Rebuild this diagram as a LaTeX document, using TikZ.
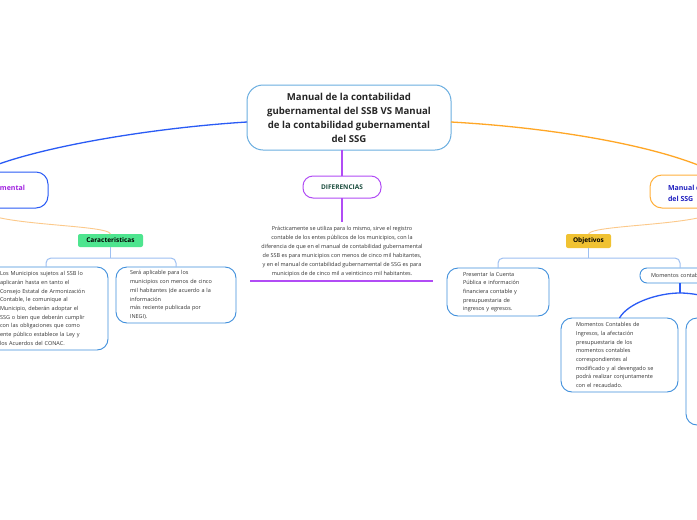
\documentclass[tikz,border=0pt]{standalone}
\usepackage{fontspec}
\setmainfont{Open Sans}
\definecolor{cborder}{HTML}{6AAEE0}
\definecolor{kborder}{HTML}{3F8FDC}
\definecolor{mblue}{HTML}{2A5BF5}
\definecolor{morange}{HTML}{FFA726}
\definecolor{lorange}{HTML}{FCC98A}
\definecolor{mpurple}{HTML}{B14CF5}
\definecolor{tpurple}{HTML}{A020E0}
\definecolor{tblue}{HTML}{2020C0}
\definecolor{tgreen}{HTML}{1B4D3E}
\definecolor{fgreen}{HTML}{4EE58F}
\definecolor{fgold}{HTML}{F0C232}
\definecolor{bracketc}{HTML}{9EC0F2}
\definecolor{tgray}{HTML}{333333}
\begin{document}
\begin{tikzpicture}[x=1pt,y=-1pt,
  every node/.style={inner sep=0pt, outer sep=0pt},
  small/.style={font=\fontsize{5.5}{8.7}\selectfont, text=tgray},
  kid/.style={draw=kborder, line width=0.9pt, rounded corners=11pt, small, align=left},
  tag/.style={rounded corners=2pt, font=\fontsize{6.5}{8}\selectfont\bfseries, text=black},
  bracket/.style={draw=bracketc, line width=1pt, rounded corners=5pt},
  bluec/.style={draw=mblue, line width=1.3pt},
  thinor/.style={draw=lorange, line width=0.9pt}
]
\useasboundingbox (0,0) rectangle (697,520);
\fill[white] (0,0) rectangle (697,520);

% central
\node[draw=cborder, line width=1pt, rounded corners=16pt, minimum width=204pt, minimum height=65pt,
  align=center, font=\fontsize{9.6}{14}\selectfont\bfseries, text=black!85]
  (central) at (349,117.5) {Manual de la contabilidad\\gubernamental del SSB VS Manual\\de la contabilidad gubernamental\\del SSG};

% left main node
\node[draw=mblue, line width=1pt, rounded corners=12pt, minimum width=138pt, minimum height=36pt] (lnode) at (-21,190) {};
\node[anchor=east, font=\fontsize{7}{9}\selectfont\bfseries, text=tpurple] (ltext) at (25,188.5) {Manual de la contabilidad gubernamental};

% right main node
\node[draw=morange!90, line width=1pt, rounded corners=12pt, minimum width=140pt, minimum height=33pt] (rnode) at (720,191.5) {};
\node[anchor=west, align=left, font=\fontsize{7}{11}\selectfont\bfseries, text=tblue] (rtext) at (668,193.5) {Manual de la contabilidad gubernamental\\del SSG};

% main connectors
\draw[bluec] (central.west |- 0,122) .. controls (150,128) and (30,148) .. (lnode.north);
\draw[draw=morange, line width=1.3pt] (central.east |- 0,122) .. controls (560,128) and (670,148) .. (rnode.north);

% DIFERENCIAS
\node[draw=mpurple, line width=1pt, rounded corners=10pt, minimum width=78pt, minimum height=22pt,
  font=\fontsize{6.5}{8}\selectfont\bfseries, text=tgreen] (dif) at (342,187) {DIFERENCIAS};
\draw[draw=mpurple, line width=1.2pt] (dif.north) -- (dif.north |- central.south);
\coordinate (dtop) at (342,222);
\draw[draw=mpurple, line width=1.2pt] (dif.south) -- (dtop);
\node[small, align=center, font=\fontsize{5.5}{9}\selectfont] (dtext) at (342,251.5)
 {Prácticamente se utiliza para lo mismo, sirve el registro\\contable de los entes públicos de los municipios, con la\\diferencia de que en el manual de contabilidad gubernamental\\de SSB es para  municipios con menos de cinco mil habitantes,\\y en el manual de contabilidad gubernamental de SSG es para\\municipios de de cinco mil a veinticinco mil habitantes.};
\draw[draw=mpurple, line width=1.5pt] (250,281) -- (433,281);

% Caracteristicas branch
\node[tag, fill=fgreen, minimum width=65pt, minimum height=13pt] (car) at (110.5,240.5) {Caracteristicas};
\draw[thinor] (lnode.south) .. controls (-15,226) and (108,224) .. (car.north);
\node[kid, minimum width=124pt, minimum height=83pt, text width=92pt] (c1) at (46,308.5)
 {Los Municipios sujetos al SSB lo\\aplicarán hasta en tanto el\\Consejo Estatal de Armonización\\Contable, le comunique al\\Municipio, deberán adoptar el\\SSG o bien que deberán cumplir\\con las obligaciones que como\\ente público establece la Ley y\\los Acuerdos del CONAC.};
\node[kid, minimum width=120pt, minimum height=56pt, text width=92pt] (c2) at (176,295)
 {Será aplicable para los\\municipios con menos de cinco\\mil habitantes (de acuerdo a la\\información\\más reciente publicada por\\INEGI).};
\coordinate (cb) at (0,258);
\draw[bracket] (car.south) -- (car.south |- cb);
\draw[bracket] (c1.north) -- (c1.north |- cb) -- (c2.north |- cb) -- (c2.north);

% Objetivos branch
\node[tag, fill=fgold, minimum width=45pt, minimum height=14pt] (obj) at (588.5,241) {Objetivos};
\draw[thinor] (rnode.south) .. controls (712,226) and (592,224) .. (obj.north);
\node[kid, minimum width=102pt, minimum height=48pt, text width=70pt] (o1) at (498,292)
 {Presentar la Cuenta\\Pública e información\\financiera contable y\\presupuestaria de\\ingresos y egresos.};
\node[kid, rounded corners=7pt, minimum width=80pt, minimum height=15pt, text width=58pt] (o2) at (680,275.5)
 {Momentos contables};
\coordinate (ob) at (0,258);
\draw[bracket] (obj.south) -- (obj.south |- ob);
\draw[bracket] (o1.north) -- (o1.north |- ob) -- (o2.north |- ob) -- (o2.north);

% Momentos sub-branch
\node[kid, minimum width=117pt, minimum height=74pt, text width=87pt] (m1) at (619.5,355)
 {Momentos Contables de\\Ingresos, la afectación\\presupuestaria de los\\momentos contables\\correspondientes al\\modificado y al devengado se\\podrá realizar conjuntamente\\con el recaudado.};
\node[kid, minimum width=114pt, minimum height=107pt] (m2) at (743,371.5) {};
\coordinate (mj) at (680,293);
\draw[bluec] (o2.south) -- (mj);
\draw[bluec] (mj) .. controls (658,293) and (628,303) .. (m1.north);
\draw[bluec] (mj) .. controls (702,293) and (736,303) .. (m2.north);
\end{tikzpicture}
\end{document}
